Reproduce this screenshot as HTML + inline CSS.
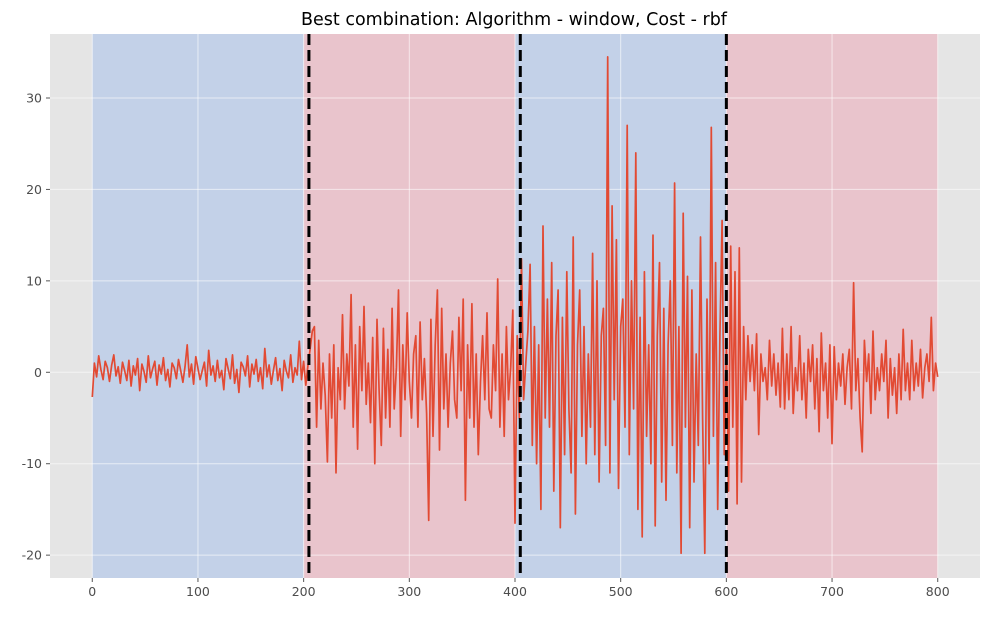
<!DOCTYPE html>
<html><head><meta charset="utf-8"><style>
body{margin:0;background:#fff;}
svg text{font-family:"DejaVu Sans","Liberation Sans",sans-serif;}
</style></head><body>
<svg id="chart" width="990" height="613" xmlns="http://www.w3.org/2000/svg">
<text x="514" y="25" font-size="17.5" text-anchor="middle" fill="#000">Best combination: Algorithm - window, Cost - rbf</text>
</svg>
<script>
const seg1=[-2.7,1,-0.5,1.8,0.3,-0.8,1.2,0.5,-1,0.8,1.9,-0.4,0.6,-1.2,1.1,0.2,-0.9,1.3,-1.5,0.7,-0.3,1.5,-2,0.9,0.1,-1.1,1.8,-0.6,0.4,1.2,-1.4,0.8,-0.2,1.6,-0.9,0.3,-1.6,1,0.5,-0.7,1.4,0.2,-1.1,0.6,3,-0.5,0.9,-1.3,1.7,0.4,-0.8,0.2,1.1,-1.5,2.4,-0.3,0.7,-1,1.3,-0.6,0.2,-1.9,1.5,0.4,-0.7,1.9,-1.2,0.3,-2.2,1.1,0.6,-0.4,1.8,-1.6,0.9,-0.2,1.4,-1,0.5,-1.8,2.6,-0.5,0.8,-1.3,0.2,1.6,-0.9,0.4,-2,1.3,0.1,-0.6,1.9,-1.1,0.5,-0.3,3.4,-0.8,1.2,-1.4,0.7,2.5,4.5];
const seg2=[5,-6,3.5,-4,1,-2.5,-9.8,2,-5,3,-11,0.5,-3,6.3,-4,2,-1.5,8.5,-6,3,-8.4,5,-2,7.2,-3.5,1,-5.5,3.8,-10,5.8,-2,-8,4.8,-5,2.5,-6,7,-4,0.5,9,-7,3,-3,6.5,-1,-5,2,4,-6,5.5,-3,1.5,-4.5,-16.2,5.8,-7,3,9,-8.5,7,-4,2,-6,1,4.5,-3,-5,6,-2,8,-14,3,-5,7.5,-6,2,-9,-1,4,-3,6.5,-4,-5,3,-2,10.2,-6,2,-7,5,-3,0.5,6.8,-16.5,4,-5,12.4,-3,1,4.5];
const seg3=[11.8,-8,5,-10,3,-15,16,-5,8,-6,12,-13,4,9,-17,6,-9,11,-4,-11,14.8,-15.5,3,9,-7,5,-10,2,-6,13,-9,10,-12,4,7,-8,34.5,-11,18.2,-3,14.5,-12.7,5,8,-6,27,-9,10,-4,24,-15,6,-18,11,-7,3,-10,15,-16.8,4,12,-12,7,-14,3,10,-8,20.7,-11,5,-19.8,17.4,-6,10.5,-17,9,-12,2,-8,14.8,-5,-19.8,8,-10,26.8,-7,12,-15,4,16.6,-9,3,-13,13.8,-6,11,-14.4,13.6];
const seg4=[-12,5,-3,4,-1,3,-2,4.2,-6.8,2,-1,0.5,-3,3.5,-1.5,2,-2.5,1,-3.8,4.8,-4,2,-3,5,-4.5,0.5,-2,4,-3,1,-5,2.5,-1,3,-4,1.5,-6.5,4.3,-2,1,-5,3,-7.8,2.8,-3,1,-1.5,2,-3.5,0.5,2.5,-4,9.8,-2,1.5,-5,-8.7,3.5,-1,2,-4.5,4.5,-3,0.5,-2,2,-1,3.5,-5,1.5,-2.5,0.5,-4.5,2,-3,4.7,-2,1,-3,3.5,-2,1,-1.5,2.5,-2.8,0.5,2,-1,6,-2,1,-0.5];
const signal=seg1.concat(seg2,seg3,seg4);
const trueRegions=[[0,200],[200,400],[400,600],[600,800]];
const detectedBkps=[205,405,600];
const xTicks=[0,100,200,300,400,500,600,700,800];
const yTicks=[-20,-10,0,10,20,30];

const L=50,R=980,T=34,B=578;
const X0=-40,X1=840,Y0=-22.5,Y1=37;
const sx=v=>L+(v-X0)/(X1-X0)*(R-L);
const sy=v=>B-(v-Y0)/(Y1-Y0)*(B-T);
const svg=document.getElementById('chart');
const NS='http://www.w3.org/2000/svg';
function mk(t,a){const e=document.createElementNS(NS,t);for(const k in a)e.setAttribute(k,a[k]);svg.appendChild(e);return e;}

let bg=mk('rect',{x:L,y:T,width:R-L,height:B-T,fill:'#E5E5E5'});


const regionColors=['#c3d1e8','#e9c4cc'];
trueRegions.forEach((r,i)=>{
 let e=mk('rect',{x:sx(r[0]),y:T,width:sx(r[1])-sx(r[0]),height:B-T,fill:regionColors[i%2]});
 
 
});
xTicks.forEach(t=>{
 let g=mk('line',{x1:sx(t),x2:sx(t),y1:T,y2:B,stroke:'#fff','stroke-width':1,opacity:0.6});
 
 
 let tk=mk('line',{x1:sx(t),x2:sx(t),y1:B,y2:B+4,stroke:'#555'});
 
 
 let tx=mk('text',{x:sx(t),y:B+18,'font-size':12.5,'text-anchor':'middle',fill:'#4d4d4d'});
 tx.textContent=t;
 
 
});
yTicks.forEach(t=>{
 let g=mk('line',{x1:L,x2:R,y1:sy(t),y2:sy(t),stroke:'#fff','stroke-width':1,opacity:0.6});
 
 
 let tk=mk('line',{x1:L-4,x2:L,y1:sy(t),y2:sy(t),stroke:'#555'});
 
 
 let tx=mk('text',{x:L-8,y:sy(t)+4.5,'font-size':12.5,'text-anchor':'end',fill:'#4d4d4d'});
 tx.textContent=t;
 
 
});
const n=signal.length;
const pts=signal.map((v,i)=>sx(i*800/(n-1)).toFixed(1)+','+sy(v).toFixed(1)).join(' ');
let line=mk('polyline',{points:pts,fill:'none',stroke:'#E24A33','stroke-width':1.7,'stroke-linejoin':'round'});


detectedBkps.forEach(b=>{
 let d=mk('line',{x1:sx(b),x2:sx(b),y1:T,y2:B,stroke:'#000','stroke-width':3,'stroke-dasharray':'11,5'});
 
 
});
</script>
</body></html>
